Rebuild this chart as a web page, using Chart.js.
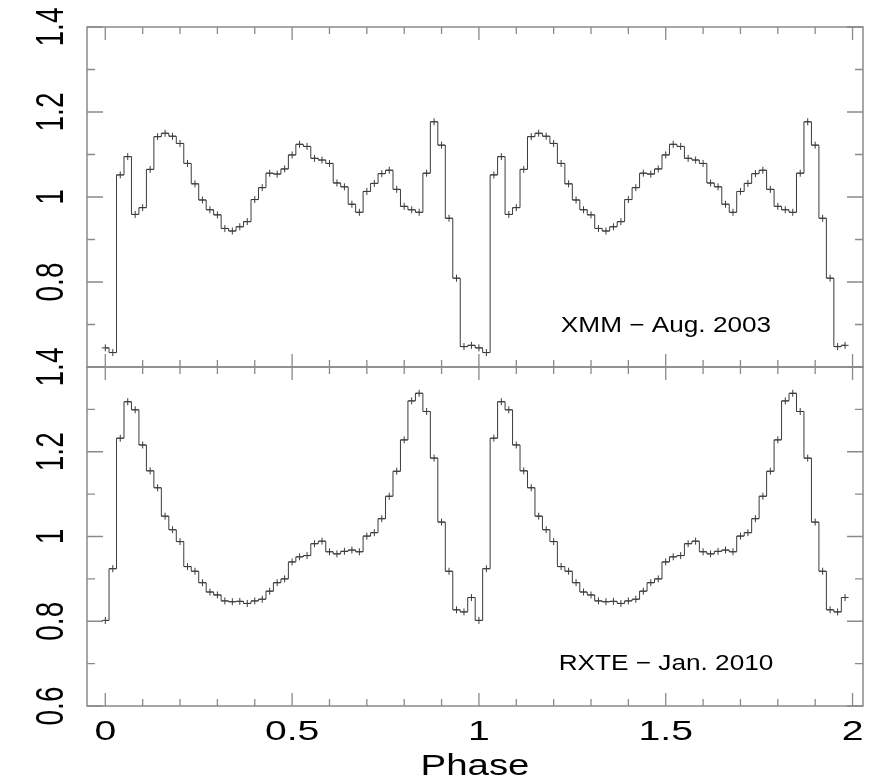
<!DOCTYPE html>
<html>
<head>
<meta charset="utf-8">
<script src="https://cdn.jsdelivr.net/npm/chart.js@4.4.1/dist/chart.umd.min.js"></script>
<style>
  html, body { margin: 0; padding: 0; background: #fff; }
  #wrap { position: relative; width: 881px; height: 780px; }
  canvas { position: absolute; left: 0; top: 0; }
</style>
</head>
<body>
<div id="wrap">
  <canvas id="topChart" width="881" height="780"></canvas>
  <canvas id="bottomChart" width="881" height="780"></canvas>
</div>
<script>
// one folded cycle (50 bins of 0.02 in phase), plotted twice as in the original
const xmmCycle = [
  0.645, 0.634, 1.052, 1.095, 0.959, 0.975, 1.065, 1.142, 1.150, 1.143,
  1.126, 1.079, 1.031, 0.993, 0.970, 0.958, 0.926, 0.920, 0.930, 0.942,
  0.994, 1.022, 1.056, 1.054, 1.066, 1.099, 1.124, 1.119, 1.091, 1.087,
  1.079, 1.033, 1.024, 0.983, 0.964, 1.013, 1.032, 1.055, 1.063, 1.018,
  0.978, 0.970, 0.964, 1.056, 1.177, 1.122, 0.950, 0.809, 0.648, 0.651
];
const rxteCycle = [
  0.802, 0.924, 1.232, 1.318, 1.299, 1.216, 1.155, 1.115, 1.048, 1.016,
  0.988, 0.929, 0.918, 0.891, 0.869, 0.862, 0.848, 0.846, 0.847, 0.842,
  0.848, 0.852, 0.871, 0.891, 0.900, 0.940, 0.952, 0.955, 0.983, 0.989,
  0.964, 0.959, 0.965, 0.968, 0.964, 1.001, 1.009, 1.042, 1.095, 1.154,
  1.228, 1.320, 1.338, 1.295, 1.185, 1.034, 0.918, 0.827, 0.822, 0.856
];
const binWidth = 0.02;
const cycles = 2;

const xTickValues = [0, 0.5, 1, 1.5, 2];
const xTickLabels = ['0', '0.5', '1', '1.5', '2'];
const topYTickValues = [1.4, 1.2, 1, 0.8];
const topYTickLabels = ['1.4', '1.2', '1', '0.8'];
const botYTickValues = [1.4, 1.2, 1, 0.8, 0.6];
const botYTickLabels = ['1.4', '1.2', '1', '0.8', '0.6'];

const xRange = [-0.049, 2.028];
const yRange = [0.6, 1.4];

function toPoints(cycle) {
  const pts = [];
  for (let c = 0; c < cycles; c++) {
    cycle.forEach((v, i) => pts.push({ x: (c * cycle.length + i) * binWidth, y: v }));
  }
  return pts;
}

const FONT = "'Liberation Sans', Arial, sans-serif";
const frameColor = '#8a8a8a';
const lineColor = '#3c3c3c';

function stretchedText(ctx, text, x, y, sx, rotate) {
  ctx.save();
  ctx.translate(x, y);
  ctx.scale(sx, 1);
  if (rotate) ctx.rotate(-Math.PI / 2);
  ctx.fillText(text, 0, 0);
  ctx.restore();
}

function panelPlugin(cfg) {
  return {
    id: 'panel',
    afterDraw(chart) {
      const { ctx, chartArea: a, scales: { x, y } } = chart;
      ctx.save();
      ctx.strokeStyle = frameColor;
      ctx.lineWidth = 1.5;
      ctx.strokeRect(a.left, a.top, a.right - a.left, a.bottom - a.top);

      ctx.lineWidth = 1.3;
      ctx.beginPath();
      for (let i = 0; i <= 20; i++) {
        const px = x.getPixelForValue(i / 10);
        const len = i % 5 === 0 ? 13 : 7;
        ctx.moveTo(px, a.top); ctx.lineTo(px, a.top + len);
        ctx.moveTo(px, a.bottom); ctx.lineTo(px, a.bottom - len);
      }
      for (let i = 6; i <= 14; i++) {
        const py = y.getPixelForValue(i / 10);
        const len = i % 2 === 0 ? 16 : 8;
        ctx.moveTo(a.left, py); ctx.lineTo(a.left + len, py);
        ctx.moveTo(a.right, py); ctx.lineTo(a.right - len, py);
      }
      ctx.stroke();

      ctx.fillStyle = '#000';
      ctx.textAlign = 'center';
      ctx.textBaseline = 'alphabetic';

      // y labels, rotated
      ctx.font = '28px ' + FONT;
      cfg.yValues.forEach((v, i) => {
        stretchedText(ctx, cfg.yLabels[i], 63, y.getPixelForValue(v), 1.4, true);
      });

      // panel annotation
      ctx.font = '22px ' + FONT;
      stretchedText(ctx, cfg.note, 666, cfg.noteY, 1.19, false);

      if (cfg.xAxis) {
        ctx.font = '27px ' + FONT;
        xTickValues.forEach((v, i) => {
          stretchedText(ctx, xTickLabels[i], x.getPixelForValue(v), 740, 1.45, false);
        });
        ctx.font = '30px ' + FONT;
        stretchedText(ctx, 'Phase', 475, 775, 1.28, false);
      }
      ctx.restore();
    }
  };
}

function makeChart(id, cycle, padding, cfg) {
  return new Chart(document.getElementById(id), {
    type: 'line',
    data: {
      datasets: [{
        data: toPoints(cycle),
        stepped: 'middle',
        borderColor: lineColor,
        borderWidth: 1,
        pointStyle: 'cross',
        pointRadius: 3.5,
        pointBorderColor: lineColor,
        pointBorderWidth: 1,
        fill: false
      }]
    },
    options: {
      responsive: false,
      animation: false,
      events: [],
      layout: { padding: padding },
      scales: {
        x: { type: 'linear', min: xRange[0], max: xRange[1], display: false },
        y: { type: 'linear', min: yRange[0], max: yRange[1], display: false }
      },
      plugins: { legend: { display: false }, tooltip: { enabled: false } }
    },
    plugins: [panelPlugin(cfg)]
  });
}

makeChart('topChart', xmmCycle, { left: 87, right: 18, top: 27, bottom: 413 }, {
  yValues: topYTickValues, yLabels: topYTickLabels,
  note: 'XMM \u2212 Aug. 2003', noteY: 332, xAxis: false
});
makeChart('bottomChart', rxteCycle, { left: 87, right: 18, top: 367, bottom: 74 }, {
  yValues: botYTickValues, yLabels: botYTickLabels,
  note: 'RXTE \u2212 Jan. 2010', noteY: 670, xAxis: true
});
</script>
</body>
</html>
